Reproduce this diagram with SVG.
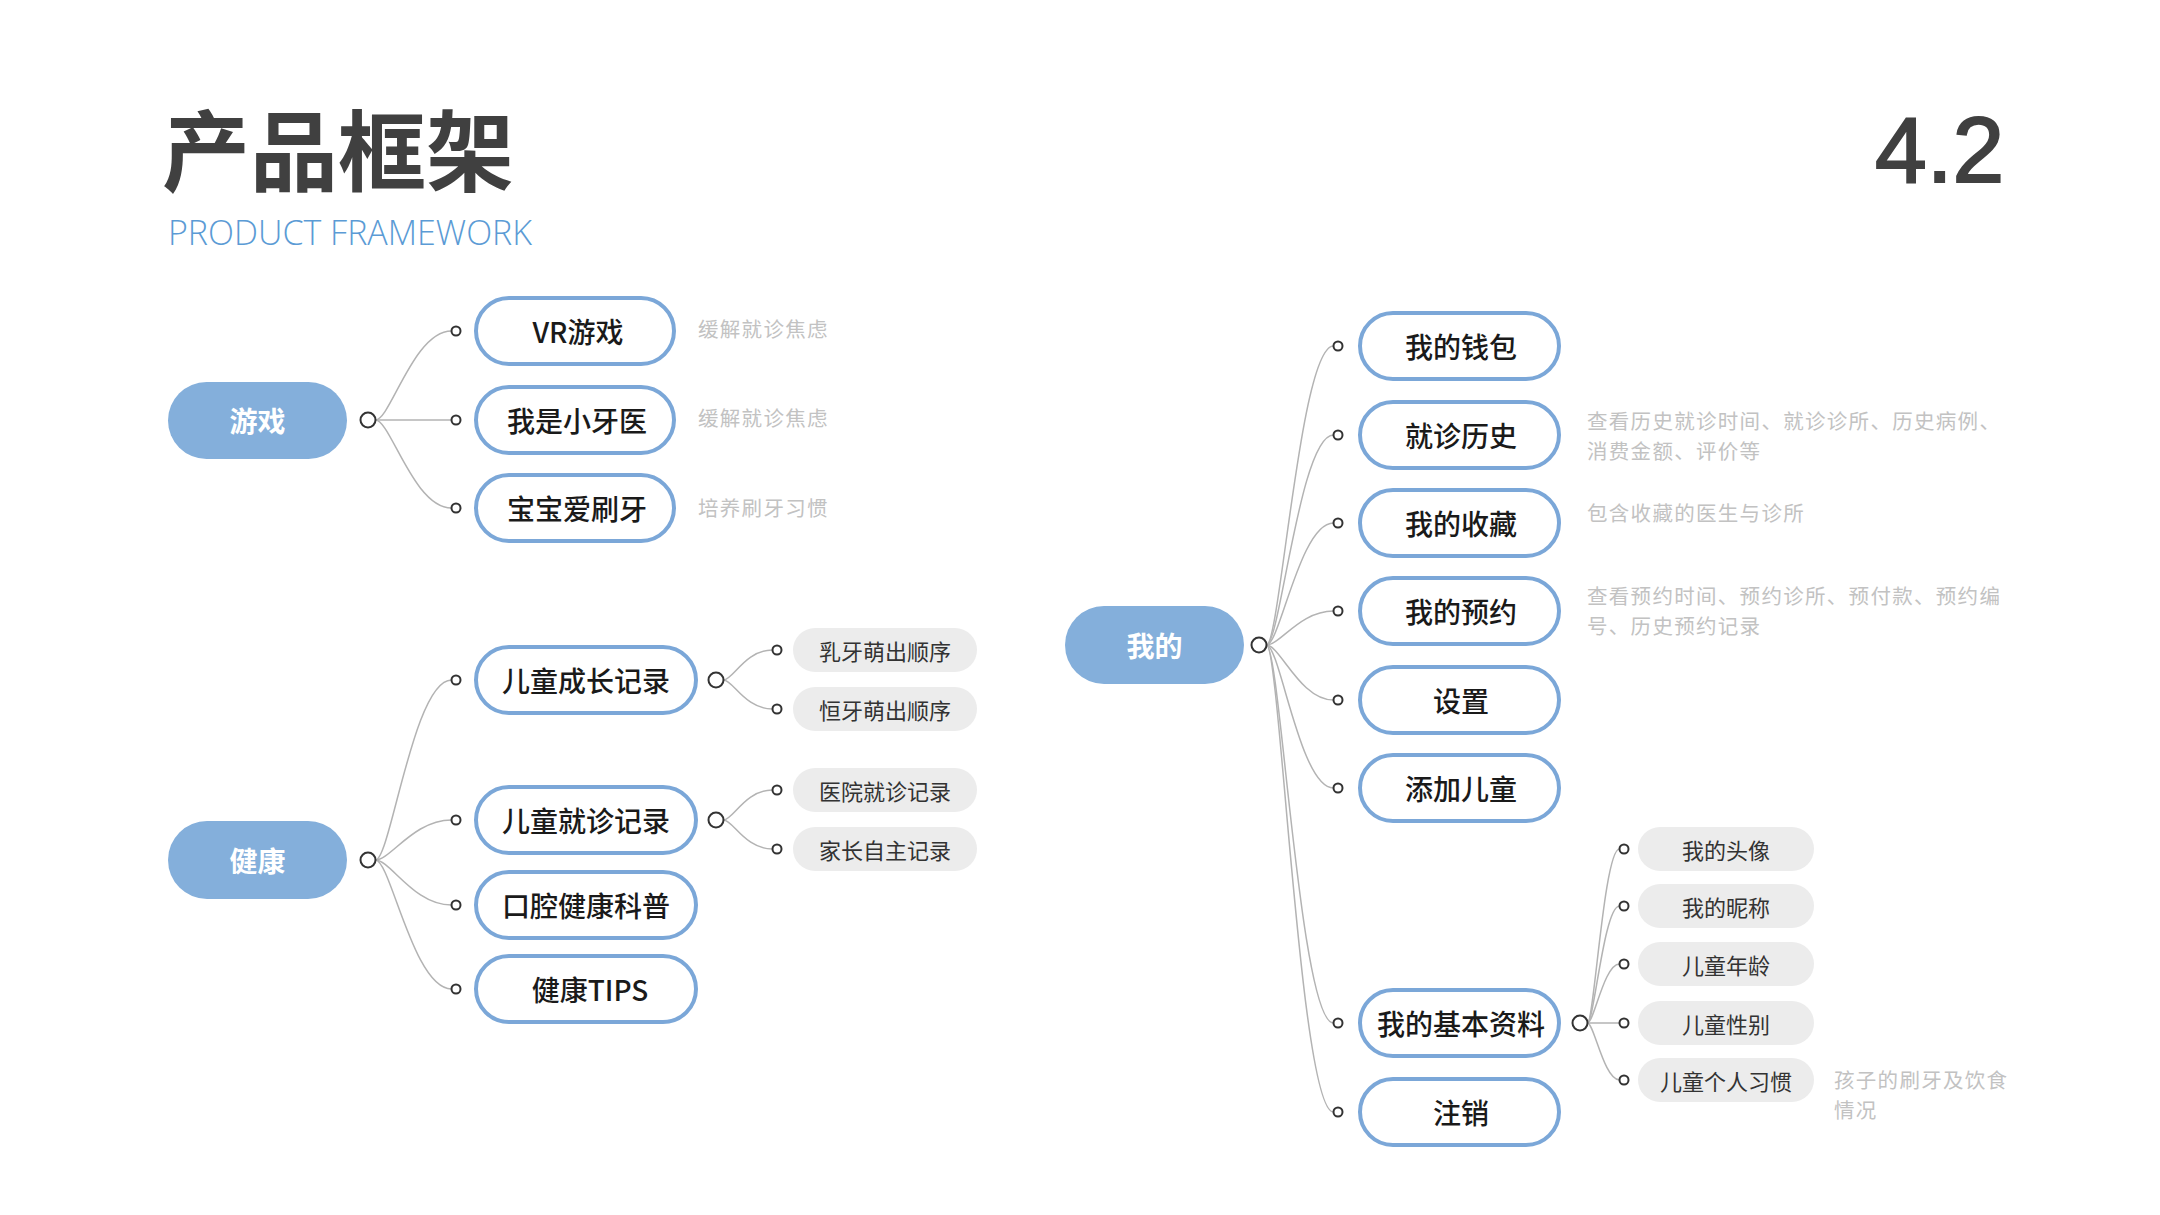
<svg xmlns="http://www.w3.org/2000/svg" width="2160" height="1215" viewBox="0 0 2160 1215">
<style>
.cjk{font-family:"Noto Sans CJK SC","Noto Sans",sans-serif}
.title{font-size:88px;font-weight:700;fill:#404040}
.sub{font-family:"Open Sans","Noto Sans",sans-serif;font-weight:300;font-size:34px;fill:#5b9bd5}
.num{font-family:"Liberation Sans",Arial,sans-serif;font-size:93px;fill:#404040;stroke:#404040;stroke-width:2}
.pill{fill:#84afdb}
.pilltext{font-size:28px;font-weight:700;fill:#ffffff;text-anchor:middle;dominant-baseline:central}
.box{fill:#ffffff;stroke:#7ba7d8;stroke-width:4}
.boxtext{font-size:28px;font-weight:500;fill:#1a1a1a;text-anchor:middle;dominant-baseline:central}
.gray{fill:#ececec}
.graytext{font-size:22px;fill:#333333;text-anchor:middle;dominant-baseline:central}
.note{font-size:20.5px;letter-spacing:1.3px;fill:#c2c2c2;dominant-baseline:central}
.conn path{fill:none;stroke:#b3b3b3;stroke-width:1.5}
.pc{fill:#ffffff;stroke:#333333;stroke-width:2}
.cc{fill:#ffffff;stroke:#333333;stroke-width:2}
</style>

<g id="header">
<text class="cjk title" x="162" y="184">产品框架</text>
<text class="sub" x="168" y="245" textLength="364" lengthAdjust="spacingAndGlyphs">PRODUCT FRAMEWORK</text>
<text class="num" x="1875" y="182">4.2</text>
</g>

<g id="connectors" class="conn">
<!-- 游戏 -->
<path d="M375.5,420 C390.5,420 413.5,331 451.5,331"/>
<path d="M375.5,420 L451.5,420"/>
<path d="M375.5,420 C390.5,420 413.5,508 451.5,508"/>
<!-- 健康 -->
<path d="M375.5,860 C390.5,860 413.5,680 451.5,680"/>
<path d="M375.5,860 C390.5,860 413.5,820 451.5,820"/>
<path d="M375.5,860 C390.5,860 413.5,905 451.5,905"/>
<path d="M375.5,860 C390.5,860 413.5,989 451.5,989"/>
<!-- sub health -->
<path d="M723.5,680 C733,680 745,650 772.5,650"/>
<path d="M723.5,680 C733,680 745,709 772.5,709"/>
<path d="M723.5,820 C733,820 745,790 772.5,790"/>
<path d="M723.5,820 C733,820 745,849 772.5,849"/>
<!-- 我的 -->
<path d="M1266.5,645 C1280,645 1300,346 1333.5,346"/>
<path d="M1266.5,645 C1280,645 1300,435 1333.5,435"/>
<path d="M1266.5,645 C1280,645 1300,523 1333.5,523"/>
<path d="M1266.5,645 C1280,645 1300,611 1333.5,611"/>
<path d="M1266.5,645 C1280,645 1300,700 1333.5,700"/>
<path d="M1266.5,645 C1280,645 1300,788 1333.5,788"/>
<path d="M1266.5,645 C1280,645 1300,1023 1333.5,1023"/>
<path d="M1266.5,645 C1280,645 1300,1112 1333.5,1112"/>
<!-- 我的基本资料 -->
<path d="M1587.5,1023 C1594,1023 1604,849 1619.5,849"/>
<path d="M1587.5,1023 C1594,1023 1604,906 1619.5,906"/>
<path d="M1587.5,1023 C1594,1023 1604,964 1619.5,964"/>
<path d="M1587.5,1023 L1619.5,1023"/>
<path d="M1587.5,1023 C1594,1023 1604,1080 1619.5,1080"/>
</g>

<!-- 游戏 branch -->
<g id="n-game">
<rect class="pill" x="168" y="382" width="179" height="77" rx="38.5"/>
<text class="cjk pilltext" x="257.5" y="420">游戏</text>
<circle class="pc" cx="368" cy="420" r="7.5"/>
</g>
<g id="n-vr">
<circle class="cc" cx="456" cy="331" r="4.5"/>
<rect class="box" x="476" y="298" width="198" height="66" rx="33"/>
<text class="cjk boxtext" x="578" y="331">VR游戏</text>
<text class="cjk note" x="698" y="328">缓解就诊焦虑</text>
</g>
<g id="n-dentist">
<circle class="cc" cx="456" cy="420" r="4.5"/>
<rect class="box" x="476" y="387" width="198" height="66" rx="33"/>
<text class="cjk boxtext" x="577" y="420">我是小牙医</text>
<text class="cjk note" x="698" y="417">缓解就诊焦虑</text>
</g>
<g id="n-brush">
<circle class="cc" cx="456" cy="508" r="4.5"/>
<rect class="box" x="476" y="475" width="198" height="66" rx="33"/>
<text class="cjk boxtext" x="577" y="508">宝宝爱刷牙</text>
<text class="cjk note" x="698" y="507">培养刷牙习惯</text>
</g>

<!-- 健康 branch -->
<g id="n-health">
<rect class="pill" x="168" y="821" width="179" height="78" rx="39"/>
<text class="cjk pilltext" x="257.5" y="860">健康</text>
<circle class="pc" cx="368" cy="860" r="7.5"/>
</g>
<g id="n-growth">
<circle class="cc" cx="456" cy="680" r="4.5"/>
<rect class="box" x="476" y="647" width="220" height="66" rx="33"/>
<text class="cjk boxtext" x="586" y="680">儿童成长记录</text>
<circle class="pc" cx="716" cy="680" r="7.5"/>
</g>
<g id="n-baby-teeth">
<circle class="cc" cx="777" cy="650" r="4.5"/>
<rect class="gray" x="793" y="628" width="184" height="44" rx="22"/>
<text class="cjk graytext" x="885" y="650">乳牙萌出顺序</text>
</g>
<g id="n-perm-teeth">
<circle class="cc" cx="777" cy="709" r="4.5"/>
<rect class="gray" x="793" y="687" width="184" height="44" rx="22"/>
<text class="cjk graytext" x="885" y="709">恒牙萌出顺序</text>
</g>
<g id="n-visit">
<circle class="cc" cx="456" cy="820" r="4.5"/>
<rect class="box" x="476" y="787" width="220" height="66" rx="33"/>
<text class="cjk boxtext" x="586" y="820">儿童就诊记录</text>
<circle class="pc" cx="716" cy="820" r="7.5"/>
</g>
<g id="n-hospital">
<circle class="cc" cx="777" cy="790" r="4.5"/>
<rect class="gray" x="793" y="768" width="184" height="44" rx="22"/>
<text class="cjk graytext" x="885" y="790">医院就诊记录</text>
</g>
<g id="n-parent">
<circle class="cc" cx="777" cy="849" r="4.5"/>
<rect class="gray" x="793" y="827" width="184" height="44" rx="22"/>
<text class="cjk graytext" x="885" y="849">家长自主记录</text>
</g>
<g id="n-oral">
<circle class="cc" cx="456" cy="905" r="4.5"/>
<rect class="box" x="476" y="872" width="220" height="66" rx="33"/>
<text class="cjk boxtext" x="586" y="905">口腔健康科普</text>
</g>
<g id="n-tips">
<circle class="cc" cx="456" cy="989" r="4.5"/>
<rect class="box" x="476" y="956" width="220" height="66" rx="33"/>
<text class="cjk boxtext" x="590" y="989">健康TIPS</text>
</g>

<!-- 我的 branch -->
<g id="n-mine">
<rect class="pill" x="1065" y="606" width="179" height="78" rx="39"/>
<text class="cjk pilltext" x="1154.5" y="645">我的</text>
<circle class="pc" cx="1259" cy="645" r="7.5"/>
</g>
<g id="n-wallet">
<circle class="cc" cx="1338" cy="346" r="4.5"/>
<rect class="box" x="1360" y="313" width="199" height="66" rx="33"/>
<text class="cjk boxtext" x="1461" y="346">我的钱包</text>
</g>
<g id="n-history">
<circle class="cc" cx="1338" cy="435" r="4.5"/>
<rect class="box" x="1360" y="402" width="199" height="66" rx="33"/>
<text class="cjk boxtext" x="1461" y="435">就诊历史</text>
<text class="cjk note" x="1587" y="420">查看历史就诊时间、就诊诊所、历史病例、<tspan x="1587" dy="30">消费金额、评价等</tspan></text>
</g>
<g id="n-fav">
<circle class="cc" cx="1338" cy="523" r="4.5"/>
<rect class="box" x="1360" y="490" width="199" height="66" rx="33"/>
<text class="cjk boxtext" x="1461" y="523">我的收藏</text>
<text class="cjk note" x="1587" y="512">包含收藏的医生与诊所</text>
</g>
<g id="n-booking">
<circle class="cc" cx="1338" cy="611" r="4.5"/>
<rect class="box" x="1360" y="578" width="199" height="66" rx="33"/>
<text class="cjk boxtext" x="1461" y="611">我的预约</text>
<text class="cjk note" x="1587" y="595">查看预约时间、预约诊所、预付款、预约编<tspan x="1587" dy="30">号、历史预约记录</tspan></text>
</g>
<g id="n-settings">
<circle class="cc" cx="1338" cy="700" r="4.5"/>
<rect class="box" x="1360" y="667" width="199" height="66" rx="33"/>
<text class="cjk boxtext" x="1461" y="700">设置</text>
</g>
<g id="n-addchild">
<circle class="cc" cx="1338" cy="788" r="4.5"/>
<rect class="box" x="1360" y="755" width="199" height="66" rx="33"/>
<text class="cjk boxtext" x="1461" y="788">添加儿童</text>
</g>
<g id="n-profile">
<circle class="cc" cx="1338" cy="1023" r="4.5"/>
<rect class="box" x="1360" y="990" width="199" height="66" rx="33"/>
<text class="cjk boxtext" x="1461" y="1023">我的基本资料</text>
<circle class="pc" cx="1580" cy="1023" r="7.5"/>
</g>
<g id="n-avatar">
<circle class="cc" cx="1624" cy="849" r="4.5"/>
<rect class="gray" x="1638" y="827" width="176" height="44" rx="22"/>
<text class="cjk graytext" x="1726" y="849">我的头像</text>
</g>
<g id="n-nick">
<circle class="cc" cx="1624" cy="906" r="4.5"/>
<rect class="gray" x="1638" y="884" width="176" height="44" rx="22"/>
<text class="cjk graytext" x="1726" y="906">我的昵称</text>
</g>
<g id="n-age">
<circle class="cc" cx="1624" cy="964" r="4.5"/>
<rect class="gray" x="1638" y="942" width="176" height="44" rx="22"/>
<text class="cjk graytext" x="1726" y="964">儿童年龄</text>
</g>
<g id="n-gender">
<circle class="cc" cx="1624" cy="1023" r="4.5"/>
<rect class="gray" x="1638" y="1001" width="176" height="44" rx="22"/>
<text class="cjk graytext" x="1726" y="1023">儿童性别</text>
</g>
<g id="n-habit">
<circle class="cc" cx="1624" cy="1080" r="4.5"/>
<rect class="gray" x="1638" y="1058" width="176" height="44" rx="22"/>
<text class="cjk graytext" x="1726" y="1080">儿童个人习惯</text>
<text class="cjk note" x="1834" y="1079">孩子的刷牙及饮食<tspan x="1834" dy="30">情况</tspan></text>
</g>
<g id="n-logout">
<circle class="cc" cx="1338" cy="1112" r="4.5"/>
<rect class="box" x="1360" y="1079" width="199" height="66" rx="33"/>
<text class="cjk boxtext" x="1461" y="1112">注销</text>
</g>
</svg>
